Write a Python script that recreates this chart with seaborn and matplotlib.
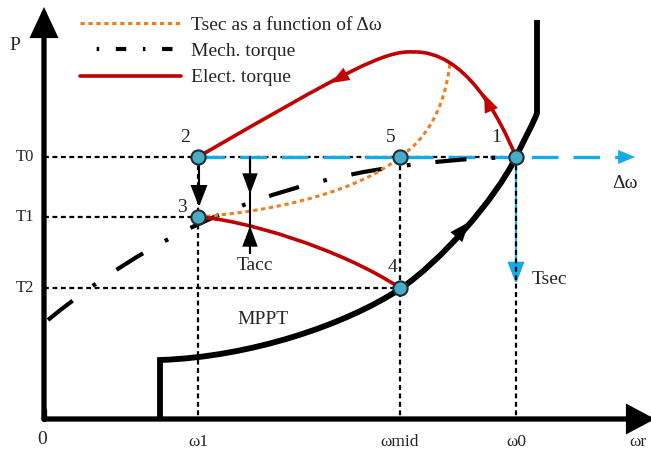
import numpy as np
import pandas as pd
import matplotlib
matplotlib.use("Agg")
import matplotlib.pyplot as plt
from matplotlib.path import Path
from matplotlib.patches import PathPatch, FancyArrowPatch
from matplotlib.lines import Line2D
import seaborn as sns

# ---- schematic data (drawing-canvas units, y grows downward) ----
omega_labels = ["ω1", "ωmid", "ω0"]
omega_pos = [198, 400, 516]
torque_labels = ["T0", "T1", "T2"]
torque_pos = [157, 217, 288]

state_names = ["1", "2", "3", "4", "5"]
state_x = [516, 198, 198, 400, 400]
state_y = [157, 157, 217, 288, 157]

# Bezier control polygons of the curves
elect_upper = [(516, 157), (500, 118), (465, 50), (413, 52),
               (385, 50), (345, 72), (198, 157)]
elect_lower = [(198, 217), (240, 219), (340, 248), (400, 288)]
tsec_curve = [(198, 217), (280, 211), (360, 190), (400, 157),
              (425, 140), (445, 110), (450, 62)]
mech_curve = [(48, 320), (180, 212), (320, 162), (516, 157)]
mppt_curve = [(160, 419), (160, 360),
              (250, 357), (345, 325), (400, 289),
              (440, 262), (495, 200), (516, 157),
              (525, 138), (534, 122), (537, 113),
              (537, 20)]

legend_labels = ["Tsec as a function of Δω", "Mech. torque", "Elect. torque"]

RED = "#C00000"
ORANGE = "#F07D1E"
BLUE = "#14ACE8"
POINT = "#4BACC6"

sns.set_theme(style="white")
plt.rcParams["font.family"] = ["Liberation Serif", "DejaVu Serif"]

fig = plt.figure(figsize=(6.51, 4.50), dpi=100)
ax = fig.add_axes([0, 0, 1, 1])
ax.set_xlim(0, 651)
ax.set_ylim(450, 0)
ax.axis("off")


def cubic_path(pts, lead_lines=0, tail_lines=0):
    codes = [Path.MOVETO]
    verts = [pts[0]]
    body = pts[1:len(pts) - tail_lines]
    i = 0
    for _ in range(lead_lines):
        codes.append(Path.LINETO)
        verts.append(body[i])
        i += 1
    while i < len(body):
        codes += [Path.CURVE4] * 3
        verts += body[i:i + 3]
        i += 3
    for p in pts[len(pts) - tail_lines:]:
        codes.append(Path.LINETO)
        verts.append(p)
    return Path(verts, codes)


def arrow(tail, tip, color, lw, hl, hw, z=5, ls="-"):
    a = FancyArrowPatch(tail, tip, arrowstyle=f"-|>,head_length={hl},head_width={hw}",
                        mutation_scale=1, color=color, lw=lw, shrinkA=0, shrinkB=0,
                        linestyle=ls, zorder=z, joinstyle="miter")
    ax.add_patch(a)


# dotted guide lines: horizontal at the torque levels, vertical at the speeds
dot = (0, (2.2, 1.6))
guide_x = [[44, 516], [44, 198], [44, 400], [198, 198], [400, 400], [516, 516]]
guide_y = [[157, 157], [217, 217], [288, 288], [157, 419], [157, 419], [157, 419]]
for gx, gy in zip(guide_x, guide_y):
    seg = pd.DataFrame({"x": gx, "y": gy})
    sns.lineplot(data=seg, x="x", y="y", ax=ax, color="black", lw=1.6, estimator=None,
                 linestyle=dot, sort=False, zorder=2, legend=False)

# blue delta-omega and Tsec arrows
ax.plot([198, 626], [157, 157], color=BLUE, lw=2.4, linestyle=(0, (8, 4.5)),
        zorder=3, dash_capstyle="butt")
arrow((618, 157), (635, 157), BLUE, 0.1, 12, 5, z=3)
arrow((516, 157), (516, 284), BLUE, 1.6, 13, 5, z=1.5)

# mechanical torque (dash-dot)
ax.add_patch(PathPatch(cubic_path(mech_curve), fill=False, color="black", lw=3.0,
                       linestyle=(0, (7.5, 6.0, 0.9, 6.0)), zorder=4, capstyle="butt"))
# Tsec curve (orange dotted)
ax.add_patch(PathPatch(cubic_path(tsec_curve), fill=False, color=ORANGE, lw=2.2,
                       linestyle=(0, (1.4, 1.2)), zorder=4))
# electrical torque (red)
ax.add_patch(PathPatch(cubic_path(elect_upper), fill=False, color=RED, lw=2.6, zorder=5))
ax.add_patch(PathPatch(cubic_path(elect_lower), fill=False, color=RED, lw=2.6, zorder=5))
arrow((491, 110), (484, 94), RED, 0.1, 13, 5)
arrow((352, 71), (331, 83), RED, 0.1, 13, 5)

# MPPT curve
ax.add_patch(PathPatch(cubic_path(mppt_curve, lead_lines=1, tail_lines=1), fill=False,
                       color="black", lw=4.2, zorder=4, joinstyle="miter"))
arrow((454, 240), (469, 222), "black", 0.1, 14, 5.5)

# axes of the diagram
arrow((44, 419), (44, 7), "black", 3.8, 16, 7.5, z=6)
arrow((44, 419), (655, 419), "black", 3.8, 15, 8, z=6)
ax.plot([44, 44], [419, 410], color="black", lw=3.8, solid_capstyle="round", zorder=6)

# Tacc and 2->3 arrows
ax.plot([250, 250], [157, 253], color="black", lw=1.5, zorder=6)
arrow((250, 160), (250, 194), "black", 1.5, 12, 4.5, z=6)
arrow((250, 253), (250, 226), "black", 1.5, 12, 4.5, z=6)
arrow((199, 163), (199, 207), "black", 1.5, 13, 5, z=6)

# operating points
pts = pd.DataFrame({"x": state_x, "y": state_y, "name": state_names})
sns.scatterplot(data=pts, x="x", y="y", ax=ax, s=105, color=POINT,
                edgecolor="#1c2e3a", linewidth=1.5, zorder=8, legend=False)
label_off = {"1": (-20, -20), "2": (-13, -20), "3": (-16, -9), "4": (-7, -20), "5": (-9, -20)}
for n, x, y in zip(state_names, state_x, state_y):
    dx, dy = label_off[n]
    ax.text(x + dx, y + dy, n, fontsize=14, ha="center", va="center", zorder=9)

# tick-like labels
for lab, yy in zip(torque_labels, torque_pos):
    ax.text(25, yy, lab, fontsize=12, ha="center", va="center")
for lab, xx in zip(omega_labels, omega_pos):
    ax.text(xx, 442, lab, fontsize=12.5, ha="center", va="center")
ax.text(42, 440, "0", fontsize=14, ha="center", va="center")
ax.text(629, 442, "ωr", fontsize=12.5, ha="left", va="center")
ax.text(15, 45, "P", fontsize=14, ha="center", va="center")
ax.text(625, 183, "Δω", fontsize=14, ha="center", va="center")
ax.text(532, 279, "Tsec", fontsize=14, ha="left", va="center")
ax.text(255, 265, "Tacc", fontsize=14, ha="center", va="center")
ax.text(263, 320, "MPPT", fontsize=14, ha="center", va="center")

# legend
handles = [
    Line2D([], [], color=ORANGE, lw=2.2, linestyle=(0, (1.4, 1.2))),
    Line2D([], [], color="black", lw=3.0, linestyle=(2.5, (2.5, 4, 0.6, 4))),
    Line2D([], [], color=RED, lw=2.6),
]
ax.legend(handles, legend_labels, loc="upper left", bbox_to_anchor=(80 / 651, 1 - 16 / 450),
          frameon=False, fontsize=14, handlelength=5.2, handletextpad=0.5,
          labelspacing=0.45, borderpad=0, borderaxespad=0)

fig.savefig("out.png", dpi=100)
